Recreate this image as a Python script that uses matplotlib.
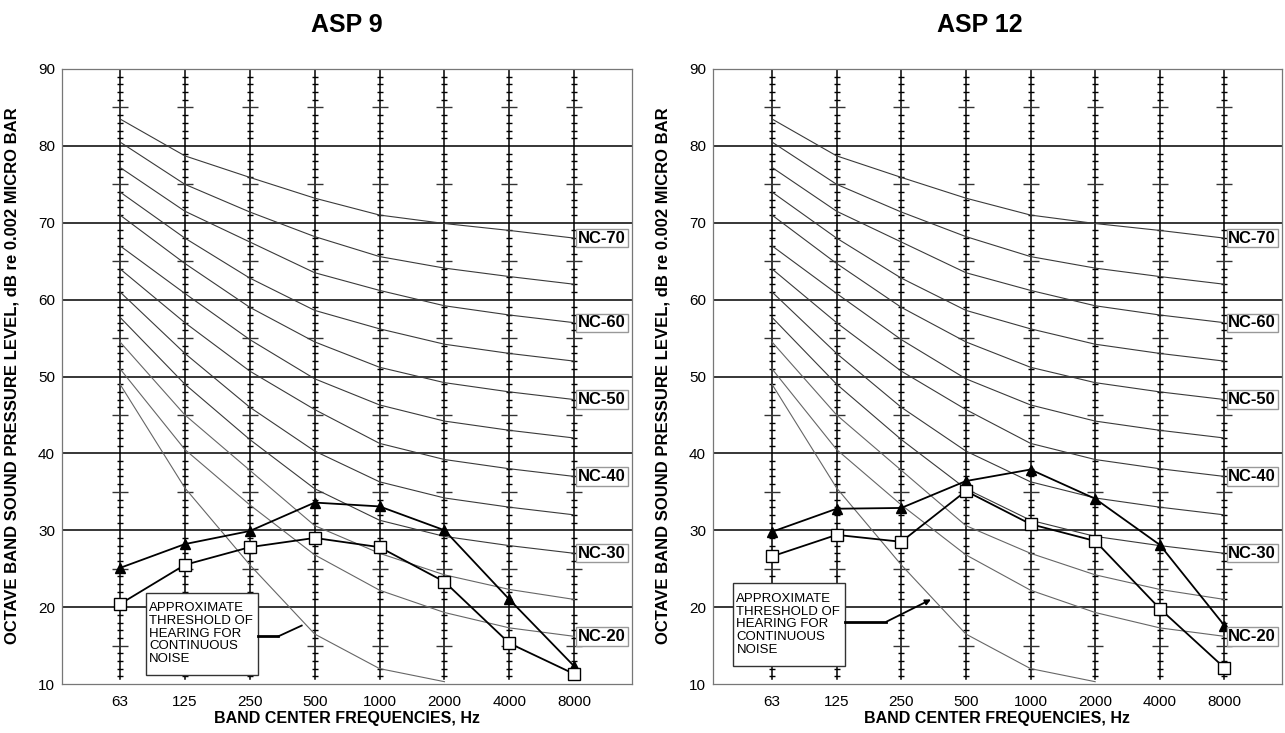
import numpy as np
import matplotlib.pyplot as plt

plt.rcParams['font.family'] = ['Liberation Sans', 'DejaVu Sans']

# octave band centre frequencies
freqs = ["63", "125", "250", "500", "1000", "2000", "4000", "8000"]

# NC curves (dB)
nc_names = ["NC-70", "NC-65", "NC-60", "NC-55", "NC-50", "NC-45",
            "NC-40", "NC-35", "NC-30", "NC-25", "NC-20"]
nc70 = [83.5, 78.7, 75.9, 73.2, 71, 69.9, 69, 68]
nc65 = [80.5, 75, 71.4, 68.2, 65.6, 64.1, 63, 62]
nc60 = [77.2, 71.5, 67.5, 63.5, 61.2, 59.2, 58, 57]
nc55 = [74, 68, 62.8, 58.6, 56.2, 54.2, 53, 52]
nc50 = [71, 64.7, 59, 54.5, 51.2, 49.2, 48, 47]
nc45 = [67, 60.8, 54.8, 49.7, 46.3, 44.2, 43, 42]
nc40 = [64, 57, 50.7, 45.7, 41.3, 39.2, 38, 37]
nc35 = [61, 53, 46, 40.3, 36.3, 34.2, 33, 32]
nc30 = [57.7, 49, 41.8, 35.4, 31.3, 29.2, 28, 27]
nc25 = [54.5, 45, 37.8, 30.6, 27, 24.2, 22.3, 21]
nc20 = [51, 40.5, 33.3, 26.8, 22.2, 19.3, 17.3, 16.2]
nc_curves = [nc70, nc65, nc60, nc55, nc50, nc45, nc40, nc35, nc30, nc25, nc20]
nc_labelled = ["NC-70", "NC-60", "NC-50", "NC-40", "NC-30", "NC-20"]

# approximate threshold of hearing (ends at 2000 Hz)
threshold = [49, 35.5, 25.5, 16.5, 12, 10.3]

# measured spectra
asp9_tri = [25.1, 28.2, 29.9, 33.6, 33.1, 30.0, 21.0, 12.3]
asp9_sq = [20.4, 25.5, 27.8, 29.0, 27.8, 23.3, 15.3, 11.3]
asp12_tri = [29.8, 32.8, 32.9, 36.4, 37.9, 34.1, 28.1, 17.6]
asp12_sq = [26.6, 29.4, 28.5, 35.1, 30.8, 28.6, 19.8, 12.1]

W, H = 1285, 733
fig = plt.figure(figsize=(W / 100, H / 100), dpi=100)

ylabel = "OCTAVE BAND SOUND PRESSURE LEVEL, dB re 0.002 MICRO BAR"
xlabel = "BAND CENTER FREQUENCIES, Hz"


def draw_panel(left_px, right_px, x0, title, title_x, tri, sq, box, leader, arrow):
    ax = fig.add_axes([left_px / W, (H - 684) / H, (right_px - left_px) / W, 615 / H])
    x = np.arange(1, 9)
    ax.set_xlim(x0, 8.89)
    ax.set_ylim(10, 90)

    # horizontal grid
    for g in range(20, 90, 10):
        ax.axhline(g, color='black', lw=1.1, zorder=1)

    # frequency columns with 1 dB ticks
    small = [v for v in range(11, 90) if v % 5 != 0]
    big = [v for v in range(15, 90, 10)]
    for xi in x:
        ax.plot([xi, xi], [10.6, 90], color='black', lw=1.1, zorder=2)
        ax.plot([xi] * len(small), small, ls='none', marker='_', ms=5,
                mew=1, color='black', zorder=2)
        ax.plot([xi] * len(big), big, ls='none', marker='_', ms=11,
                mew=1, color='#333333', zorder=2)

    # NC curves
    for name, vals in zip(nc_names, nc_curves):
        c = '#3a3a3a' if vals[0] > 56 else '#666666'
        ax.plot(x, vals, color=c, lw=0.8, zorder=3)
        if name in nc_labelled:
            ax.text(8.06, vals[-1], name, ha='left', va='center', fontsize=12,
                    fontweight='bold', zorder=6,
                    bbox=dict(boxstyle='square,pad=0.1', fc='white', ec='#999999', lw=1))
    ax.plot(x[:len(threshold)], threshold, color='#666666', lw=0.8, zorder=3)

    # data
    ax.plot(x, tri, color='black', lw=1.3, marker='^', ms=7, mfc='black', zorder=5)
    ax.plot(x, sq, color='black', lw=1.3, marker='s', ms=8.5, mfc='white',
            mec='black', mew=1, zorder=5)

    # threshold annotation
    bx0, by0, bx1, by1 = box
    ax.add_patch(plt.Rectangle((bx0, by0), bx1 - bx0, by1 - by0, fc='white',
                               ec='#333333', lw=1, zorder=7))
    ax.text(bx0 + 0.05, (by0 + by1) / 2, "APPROXIMATE\nTHRESHOLD OF\nHEARING FOR\nCONTINUOUS\nNOISE",
            ha='left', va='center', fontsize=9.5, linespacing=1.08, zorder=8)
    lx, ly = leader
    ax.plot(lx[:2], ly[:2], color='black', lw=2, zorder=7)
    if arrow:
        ax.annotate("", xy=(lx[2], ly[2]), xytext=(lx[1], ly[1]),
                    arrowprops=dict(arrowstyle='-|>', color='black', lw=1.3,
                                    mutation_scale=8, shrinkA=0, shrinkB=0), zorder=7)
    else:
        ax.plot(lx[1:], ly[1:], color='black', lw=1.3, zorder=7)

    for s in ax.spines.values():
        s.set_color('#777777')
        s.set_linewidth(0.9)
    ax.set_xticks(x)
    ax.set_xticklabels(freqs, fontsize=11)
    ax.set_yticks(range(10, 91, 10))
    ax.tick_params(axis='y', length=0, labelsize=11, pad=5)
    ax.tick_params(axis='x', length=0, pad=8)

    fig.text(title_x / W, 1 - 25 / H, title, ha='center', va='center',
             fontsize=18, fontweight='bold')
    fig.text((left_px - 50) / W, 1 - 376 / H, ylabel, rotation=90, ha='center',
             va='center', fontsize=12, fontweight='bold')
    fig.text((left_px + right_px) / 2 / W, 1 - 719 / H, xlabel, ha='center',
             va='center', fontsize=11.5, fontweight='bold')


draw_panel(62, 632, 0.106, "ASP 9", 347, asp9_tri, asp9_sq,
           (1.40, 11.2, 3.12, 21.9), ([3.12, 3.44, 3.80], [16.2, 16.2, 17.6]), False)
draw_panel(713, 1282, 0.088, "ASP 12", 980, asp12_tri, asp12_sq,
           (0.40, 12.3, 2.13, 23.2), ([2.13, 2.77, 3.46], [18.1, 18.1, 21.0]), True)

fig.savefig("out.png", dpi=100)
